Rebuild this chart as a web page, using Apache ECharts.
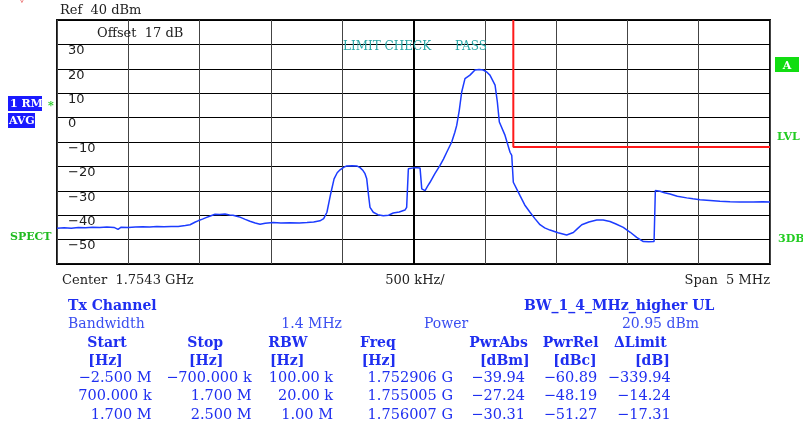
<!DOCTYPE html>
<html><head><meta charset="utf-8">
<script src="https://cdn.jsdelivr.net/npm/echarts@6/dist/echarts.min.js"></script>
<style>html,body{margin:0;padding:0;background:#fff}#c{width:803px;height:429px}</style>
</head><body><div id="c"></div>
<script>
// ---- data ----
const freqMHz = [-2.500,-2.450,-2.400,-2.350,-2.300,-2.250,-2.200,-2.150,-2.100,-2.072,-2.050,-2.000,-1.950,-1.900,-1.850,-1.800,-1.750,-1.700,-1.650,-1.600,-1.567,-1.530,-1.511,-1.480,-1.455,-1.420,-1.392,-1.360,-1.322,-1.290,-1.266,-1.240,-1.217,-1.180,-1.147,-1.110,-1.076,-1.040,-0.985,-0.930,-0.866,-0.800,-0.747,-0.700,-0.656,-0.630,-0.607,-0.581,-0.557,-0.535,-0.515,-0.490,-0.468,-0.430,-0.398,-0.375,-0.354,-0.340,-0.328,-0.315,-0.305,-0.282,-0.250,-0.212,-0.175,-0.142,-0.100,-0.060,-0.048,-0.036,0.000,0.022,0.046,0.058,0.081,0.100,0.116,0.150,0.186,0.210,0.233,0.268,0.290,0.303,0.321,0.338,0.361,0.396,0.431,0.460,0.489,0.515,0.536,0.572,0.588,0.602,0.642,0.677,0.689,0.700,0.747,0.780,0.817,0.850,0.887,0.920,0.957,1.014,1.074,1.121,1.150,1.180,1.230,1.285,1.330,1.378,1.420,1.471,1.520,1.565,1.612,1.650,1.687,1.696,1.729,1.760,1.799,1.850,1.916,1.960,2.009,2.080,2.149,2.220,2.290,2.381,2.450,2.500];
const levelDbm = [-45.3,-45.1,-45.3,-45.0,-45.1,-44.9,-45.0,-44.8,-45.0,-45.8,-44.9,-45.0,-44.8,-44.7,-44.8,-44.6,-44.7,-44.6,-44.6,-44.2,-43.9,-42.8,-42.3,-41.6,-41.0,-40.2,-39.6,-39.7,-39.5,-39.9,-40.0,-40.4,-40.8,-41.7,-42.5,-43.2,-43.7,-43.3,-43.0,-43.2,-43.1,-43.2,-43.0,-42.8,-42.3,-41.4,-38.8,-31.3,-25.1,-22.6,-21.4,-20.4,-19.8,-19.7,-19.8,-20.5,-21.7,-23.0,-25.1,-32.0,-36.8,-38.8,-39.8,-40.2,-40.0,-39.1,-38.7,-37.9,-36.8,-21.0,-20.6,-20.6,-20.7,-29.2,-29.9,-28.0,-26.5,-23.0,-19.6,-17.0,-14.2,-10.0,-6.0,-3.2,3.0,10.5,16.0,17.4,19.5,19.7,19.5,18.6,17.4,13.3,6.4,-1.8,-7.3,-14.2,-15.5,-26.5,-32.0,-35.8,-38.8,-41.3,-43.9,-45.2,-46.1,-47.2,-48.1,-47.1,-45.5,-43.9,-42.8,-42.0,-42.0,-42.6,-43.6,-45.0,-47.0,-49.1,-50.8,-50.9,-50.8,-29.9,-30.2,-30.8,-31.3,-32.2,-32.9,-33.3,-33.7,-34.0,-34.3,-34.5,-34.6,-34.6,-34.5,-34.6];
const limitFreq = [0.7, 0.7, 2.5];
const limitLevel = [40, -12, -12];
const yTicks = [30, 20, 10, 0, -10, -20, -30, -40, -50];

const tableHeaders = ['Start', 'Stop', 'RBW', 'Freq', 'PwrAbs', 'PwrRel', '\u0394Limit'];
const tableUnits = ['[Hz]', '[Hz]', '[Hz]', '[Hz]', '[dBm]', '[dBc]', '[dB]'];
const tableRows = [
  ['\u22122.500 M', '\u2212700.000 k', '100.00 k', '1.752906 G', '\u221239.94', '\u221260.89', '\u2212339.94'],
  ['700.000 k', '1.700 M', '20.00 k', '1.755005 G', '\u221227.24', '\u221248.19', '\u221214.24'],
  ['1.700 M', '2.500 M', '1.00 M', '1.756007 G', '\u221230.31', '\u221251.27', '\u221217.31']
];

// ---- layout ----
const colRight = [151.7, 251.7, 333, 453, 525, 597.3, 670.7];
const hdrLeft = [87.3, 187.3, 268.3, 360, 469.3, 542.7, 614];
const unitLeft = [88.3, 189, 270, 361.7, 480, 553.3, 635];
const rowY = [378.5, 396.7, 415];
const BLUE = '#1f2ff0';
const SERIF = '"DejaVu Serif", "Liberation Serif", serif';

const trace = freqMHz.map((f, i) => [f, levelDbm[i]]);
const limit = limitFreq.map((f, i) => [f, limitLevel[i]]);

function txt(x, y, text, o) {
  o = o || {};
  return { type: 'text', x: x, y: y, silent: true, z: 10,
    style: { text: text, fill: o.fill || '#222', font: (o.weight || 'normal') + ' ' + (o.size || 13) + 'px ' + (o.family || SERIF),
      textAlign: o.align || 'left', textVerticalAlign: 'middle' } };
}
function box(x, y, w, h, fill) {
  return { type: 'rect', shape: { x: x, y: y, width: w, height: h }, style: { fill: fill }, silent: true, z: 9 };
}

const graphics = [];
graphics.push(txt(60, 11, 'Ref  40 dBm', { size: 13 }));
graphics.push(txt(97, 34, 'Offset  17 dB', { size: 13 }));
graphics.push(txt(343, 47, 'LIMIT CHECK', { size: 12, fill: '#2aa7a7' }));
graphics.push(txt(455, 47, 'PASS', { size: 12, fill: '#2aa7a7' }));
graphics.push(box(8, 96, 34, 15, '#1a1aff'));
graphics.push(txt(10, 104, '1 RM', { size: 11, fill: '#fff', weight: 'bold' }));
graphics.push(box(8, 113, 27, 15, '#1a1aff'));
graphics.push(txt(9, 121, 'AVG', { size: 11, fill: '#fff', weight: 'bold' }));
graphics.push(txt(48, 106, '*', { size: 11, fill: '#22cc22', weight: 'bold' }));
graphics.push(txt(10, 237, 'SPECT', { size: 11, fill: '#22bb22', weight: 'bold' }));
graphics.push(box(775, 57, 24, 15, '#11dd11'));
graphics.push(txt(787, 66, 'A', { size: 11, fill: '#fff', weight: 'bold', align: 'center' }));
graphics.push(txt(777, 137, 'LVL', { size: 11, fill: '#22cc22', weight: 'bold' }));
graphics.push(txt(778, 239, '3DB', { size: 11, fill: '#22cc22', weight: 'bold' }));
graphics.push(txt(22, 0, '\u25BD', { size: 9, fill: '#e02020', align: 'center' }));
graphics.push(txt(62, 281, 'Center  1.7543 GHz', { size: 13 }));
graphics.push(txt(415, 281, '500 kHz/', { size: 13, align: 'center' }));
graphics.push(txt(770, 281, 'Span  5 MHz', { size: 13, align: 'right' }));

graphics.push(txt(68, 306, 'Tx Channel', { size: 14, fill: BLUE, weight: 'bold' }));
graphics.push(txt(524, 306, 'BW_1_4_MHz_higher UL', { size: 14, fill: BLUE, weight: 'bold' }));
graphics.push(txt(68, 324.5, 'Bandwidth', { size: 14, fill: '#3a4ef0' }));
graphics.push(txt(342, 324.5, '1.4 MHz', { size: 14, fill: '#3a4ef0', align: 'right' }));
graphics.push(txt(424, 324.5, 'Power', { size: 14, fill: '#3a4ef0' }));
graphics.push(txt(699, 324.5, '20.95 dBm', { size: 14, fill: '#3a4ef0', align: 'right' }));
tableHeaders.forEach((h, i) => graphics.push(txt(hdrLeft[i], 343, h, { size: 14, fill: BLUE, weight: 'bold' })));
tableUnits.forEach((u, i) => graphics.push(txt(unitLeft[i], 361, u, { size: 14, fill: BLUE, weight: 'bold' })));
tableRows.forEach((row, r) => row.forEach((v, i) => graphics.push(txt(colRight[i], rowY[r], v, { size: 14.5, fill: BLUE, align: 'right' }))));

const chart = echarts.init(document.getElementById('c'));
chart.setOption({
  animation: false,
  backgroundColor: '#fff',
  grid: { left: 57, top: 20, width: 713, height: 244, show: true, borderColor: '#111', borderWidth: 2, backgroundColor: 'transparent' },
  xAxis: { type: 'value', min: -2.5, max: 2.5, interval: 0.5,
    axisLine: { show: false }, axisTick: { show: false }, axisLabel: { show: false },
    splitLine: { show: true, lineStyle: { color: '#444', width: 1 } } },
  yAxis: { type: 'value', min: -60, max: 40, interval: 10,
    axisLine: { show: false }, axisTick: { show: false },
    splitLine: { show: true, lineStyle: { color: '#000', width: 1 } },
    axisLabel: { inside: true, margin: 11, color: '#222', fontSize: 13, fontFamily: '"DejaVu Sans", sans-serif',
      verticalAlign: 'top', padding: [0, 0, 0, 0],
      formatter: v => yTicks.indexOf(v) >= 0 ? String(v).replace('-', '\u2212') : '' } },
  series: [
    { type: 'line', data: trace, showSymbol: false, lineStyle: { color: '#1c3cff', width: 1.5 }, z: 5,
      markLine: { silent: true, symbol: 'none', label: { show: false }, lineStyle: { color: '#000', width: 2, type: 'solid' }, data: [{ xAxis: 0 }] } },
    { type: 'line', data: limit, showSymbol: false, lineStyle: { color: '#ff1a1a', width: 2 }, z: 4 }
  ],
  graphic: graphics
});
</script></body></html>
